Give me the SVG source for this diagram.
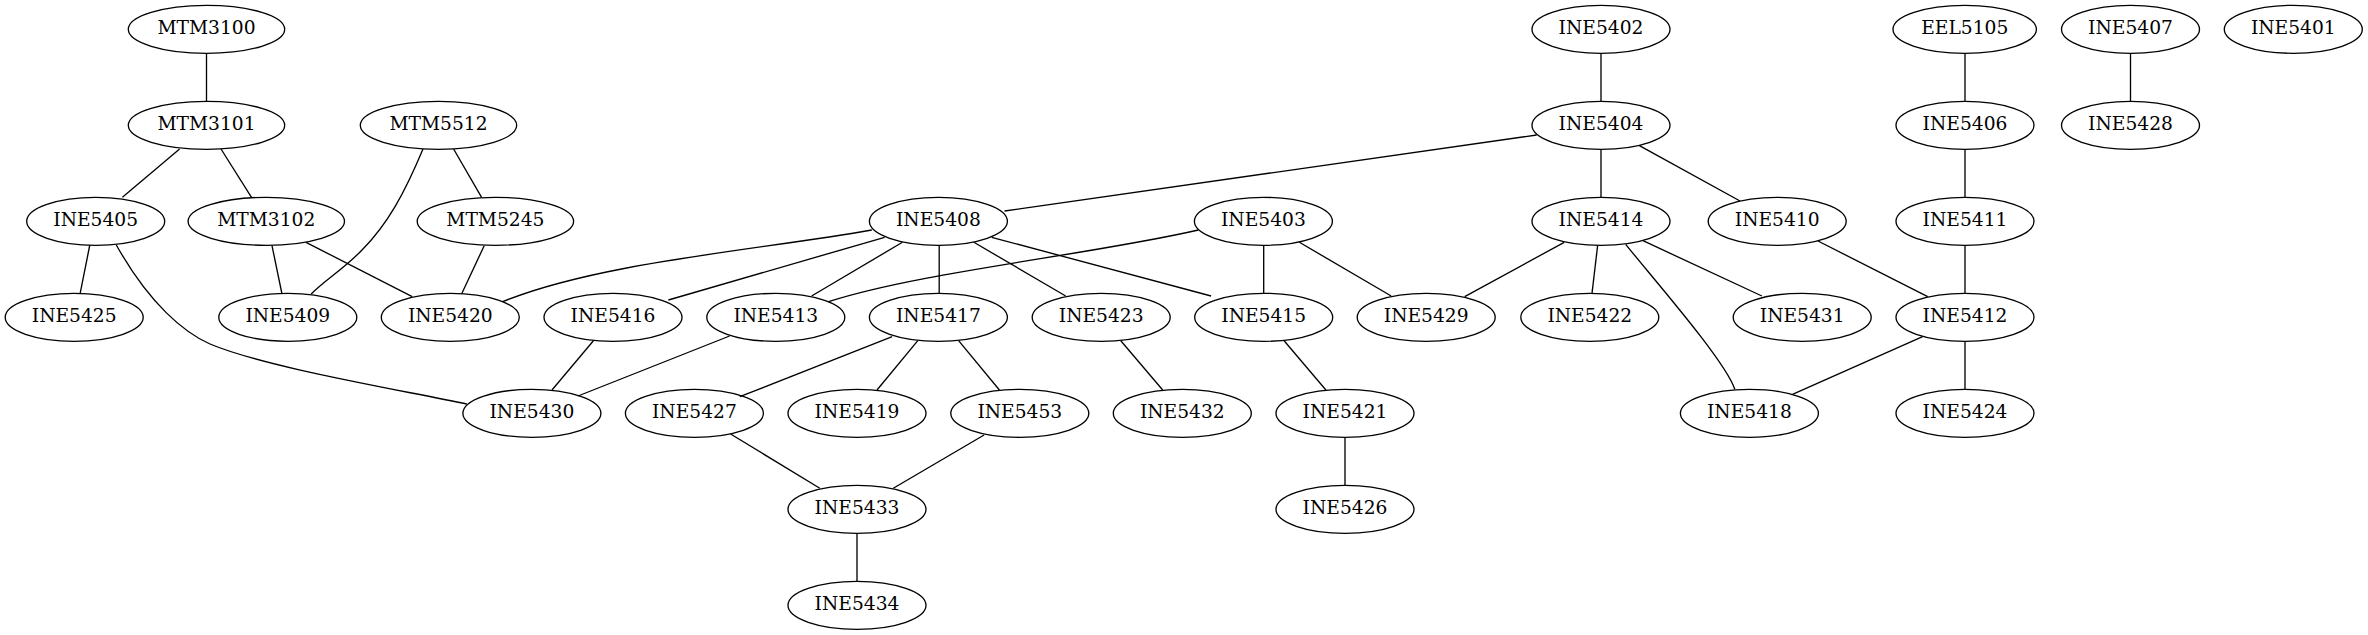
<svg xmlns="http://www.w3.org/2000/svg" width="2368" height="635" viewBox="0 0 2368 635">
<style>
.n ellipse{fill:none;stroke:#000;stroke-width:1.33}
.n text{font-family:"DejaVu Serif","Liberation Serif",serif;font-size:18.67px;text-anchor:middle;fill:#000}
#edges path{fill:none;stroke:#000;stroke-width:1.33}
</style>
<rect width="2368" height="635" fill="#fff"/>
<g id="edges">
<path d="M206.5,53.3 L206.5,101.3"/>
<path d="M179.6,149 L122.4,197.3"/>
<path d="M221,149 L251.5,197.3"/>
<path d="M423,149 C405,192 388,224 362,250 C345,268 325,280 311.2,294"/>
<path d="M453.6,149 L481.6,197.3"/>
<path d="M89.8,245 L80.1,293.7"/>
<path d="M116.3,245 C150,305 185,333 210,344 C265,367 390,388 466.8,404"/>
<path d="M272,245.7 L282,294"/>
<path d="M306,242.3 L412.2,296.7"/>
<path d="M484.2,245.7 L461.7,293.7"/>
<path d="M871.8,230 C760,250 600,262 502.6,301.7"/>
<path d="M884.6,237.3 L668.4,300"/>
<path d="M902.4,242.3 L811.6,296"/>
<path d="M939.2,245.7 L939.2,293.3"/>
<path d="M973.9,242.3 L1065.7,296"/>
<path d="M991.7,237.3 L1211.1,296"/>
<path d="M1198.4,230 C1090,255 920,272 828.5,301.7"/>
<path d="M1263.7,245.7 L1263.7,293.3"/>
<path d="M1299.4,242.3 L1391.2,296"/>
<path d="M1536.6,135 L1004.5,211"/>
<path d="M1601,53.3 L1601,101.3"/>
<path d="M1601,149.3 L1601,197.3"/>
<path d="M1639.4,145.7 L1740,201"/>
<path d="M1564.2,242.3 L1464.7,296.7"/>
<path d="M1597.6,245.7 L1592,293.3"/>
<path d="M1643,240.7 L1761.9,296"/>
<path d="M1625.7,244.3 C1650,275 1725,360 1734.8,389.3"/>
<path d="M1818,241 L1927.7,296.7"/>
<path d="M1965,53.3 L1965,101.3"/>
<path d="M1965,149.3 L1965,197.3"/>
<path d="M1965,245.3 L1965,293.3"/>
<path d="M1922.6,336.7 L1792.5,394.3"/>
<path d="M1965,341.3 L1965,389.3"/>
<path d="M2130.5,53.3 L2130.5,101.3"/>
<path d="M593.4,340.7 L552,390"/>
<path d="M729.6,336 L578,396"/>
<path d="M892.2,336.7 L739.8,396.7"/>
<path d="M917.8,340.7 L877,390"/>
<path d="M958.6,340.7 L999.4,390"/>
<path d="M1120.8,340.7 L1162.7,390"/>
<path d="M1284.1,340.7 L1325.9,390"/>
<path d="M1345,437.3 L1345,485.3"/>
<path d="M730.6,434 L819.8,488.3"/>
<path d="M984.1,435 L893.3,488.3"/>
<path d="M857,533.3 L857,581.3"/>
</g>
<g id="MTM3100" class="n"><ellipse cx="206.5" cy="29.3" rx="78.2" ry="24"/><text x="206.5" y="34.3">MTM3100</text></g>
<g id="INE5402" class="n"><ellipse cx="1601" cy="29.3" rx="69" ry="24"/><text x="1601" y="34.3">INE5402</text></g>
<g id="EEL5105" class="n"><ellipse cx="1964.7" cy="29.3" rx="71.7" ry="24"/><text x="1964.7" y="34.3">EEL5105</text></g>
<g id="INE5407" class="n"><ellipse cx="2130.5" cy="29.3" rx="69" ry="24"/><text x="2130.5" y="34.3">INE5407</text></g>
<g id="INE5401" class="n"><ellipse cx="2293.3" cy="29.3" rx="69" ry="24"/><text x="2293.3" y="34.3">INE5401</text></g>
<g id="MTM3101" class="n"><ellipse cx="206.5" cy="125.3" rx="78.2" ry="24"/><text x="206.5" y="130.3">MTM3101</text></g>
<g id="MTM5512" class="n"><ellipse cx="438.5" cy="125.3" rx="78.2" ry="24"/><text x="438.5" y="130.3">MTM5512</text></g>
<g id="INE5404" class="n"><ellipse cx="1601" cy="125.3" rx="69" ry="24"/><text x="1601" y="130.3">INE5404</text></g>
<g id="INE5406" class="n"><ellipse cx="1965" cy="125.3" rx="69" ry="24"/><text x="1965" y="130.3">INE5406</text></g>
<g id="INE5428" class="n"><ellipse cx="2130.5" cy="125.3" rx="69" ry="24"/><text x="2130.5" y="130.3">INE5428</text></g>
<g id="INE5405" class="n"><ellipse cx="95.7" cy="221.3" rx="69" ry="24"/><text x="95.7" y="226.3">INE5405</text></g>
<g id="MTM3102" class="n"><ellipse cx="266.3" cy="221.3" rx="78.2" ry="24"/><text x="266.3" y="226.3">MTM3102</text></g>
<g id="MTM5245" class="n"><ellipse cx="495.4" cy="221.3" rx="78.2" ry="24"/><text x="495.4" y="226.3">MTM5245</text></g>
<g id="INE5408" class="n"><ellipse cx="938.4" cy="221.3" rx="69" ry="24"/><text x="938.4" y="226.3">INE5408</text></g>
<g id="INE5403" class="n"><ellipse cx="1263.4" cy="221.3" rx="69" ry="24"/><text x="1263.4" y="226.3">INE5403</text></g>
<g id="INE5414" class="n"><ellipse cx="1601" cy="221.3" rx="69" ry="24"/><text x="1601" y="226.3">INE5414</text></g>
<g id="INE5410" class="n"><ellipse cx="1777.2" cy="221.3" rx="69" ry="24"/><text x="1777.2" y="226.3">INE5410</text></g>
<g id="INE5411" class="n"><ellipse cx="1965" cy="221.3" rx="69" ry="24"/><text x="1965" y="226.3">INE5411</text></g>
<g id="INE5425" class="n"><ellipse cx="74.2" cy="317.3" rx="69" ry="24"/><text x="74.2" y="322.3">INE5425</text></g>
<g id="INE5409" class="n"><ellipse cx="287.8" cy="317.3" rx="69" ry="24"/><text x="287.8" y="322.3">INE5409</text></g>
<g id="INE5420" class="n"><ellipse cx="450.3" cy="317.3" rx="69" ry="24"/><text x="450.3" y="322.3">INE5420</text></g>
<g id="INE5416" class="n"><ellipse cx="613" cy="317.3" rx="69" ry="24"/><text x="613" y="322.3">INE5416</text></g>
<g id="INE5413" class="n"><ellipse cx="775.8" cy="317.3" rx="69" ry="24"/><text x="775.8" y="322.3">INE5413</text></g>
<g id="INE5417" class="n"><ellipse cx="938.4" cy="317.3" rx="69" ry="24"/><text x="938.4" y="322.3">INE5417</text></g>
<g id="INE5423" class="n"><ellipse cx="1101.2" cy="317.3" rx="69" ry="24"/><text x="1101.2" y="322.3">INE5423</text></g>
<g id="INE5415" class="n"><ellipse cx="1263.7" cy="317.3" rx="69" ry="24"/><text x="1263.7" y="322.3">INE5415</text></g>
<g id="INE5429" class="n"><ellipse cx="1426.2" cy="317.3" rx="69" ry="24"/><text x="1426.2" y="322.3">INE5429</text></g>
<g id="INE5422" class="n"><ellipse cx="1589.8" cy="317.3" rx="69" ry="24"/><text x="1589.8" y="322.3">INE5422</text></g>
<g id="INE5431" class="n"><ellipse cx="1802.2" cy="317.3" rx="69" ry="24"/><text x="1802.2" y="322.3">INE5431</text></g>
<g id="INE5412" class="n"><ellipse cx="1965" cy="317.3" rx="69" ry="24"/><text x="1965" y="322.3">INE5412</text></g>
<g id="INE5430" class="n"><ellipse cx="531.9" cy="413.3" rx="69" ry="24"/><text x="531.9" y="418.3">INE5430</text></g>
<g id="INE5427" class="n"><ellipse cx="694.4" cy="413.3" rx="69" ry="24"/><text x="694.4" y="418.3">INE5427</text></g>
<g id="INE5419" class="n"><ellipse cx="857" cy="413.3" rx="69" ry="24"/><text x="857" y="418.3">INE5419</text></g>
<g id="INE5453" class="n"><ellipse cx="1019.8" cy="413.3" rx="69" ry="24"/><text x="1019.8" y="418.3">INE5453</text></g>
<g id="INE5432" class="n"><ellipse cx="1182.3" cy="413.3" rx="69" ry="24"/><text x="1182.3" y="418.3">INE5432</text></g>
<g id="INE5421" class="n"><ellipse cx="1345" cy="413.3" rx="69" ry="24"/><text x="1345" y="418.3">INE5421</text></g>
<g id="INE5418" class="n"><ellipse cx="1749.4" cy="413.3" rx="69" ry="24"/><text x="1749.4" y="418.3">INE5418</text></g>
<g id="INE5424" class="n"><ellipse cx="1965" cy="413.3" rx="69" ry="24"/><text x="1965" y="418.3">INE5424</text></g>
<g id="INE5433" class="n"><ellipse cx="857" cy="509.3" rx="69" ry="24"/><text x="857" y="514.3">INE5433</text></g>
<g id="INE5426" class="n"><ellipse cx="1345" cy="509.3" rx="69" ry="24"/><text x="1345" y="514.3">INE5426</text></g>
<g id="INE5434" class="n"><ellipse cx="857" cy="605.3" rx="69" ry="24"/><text x="857" y="610.3">INE5434</text></g>
</svg>
